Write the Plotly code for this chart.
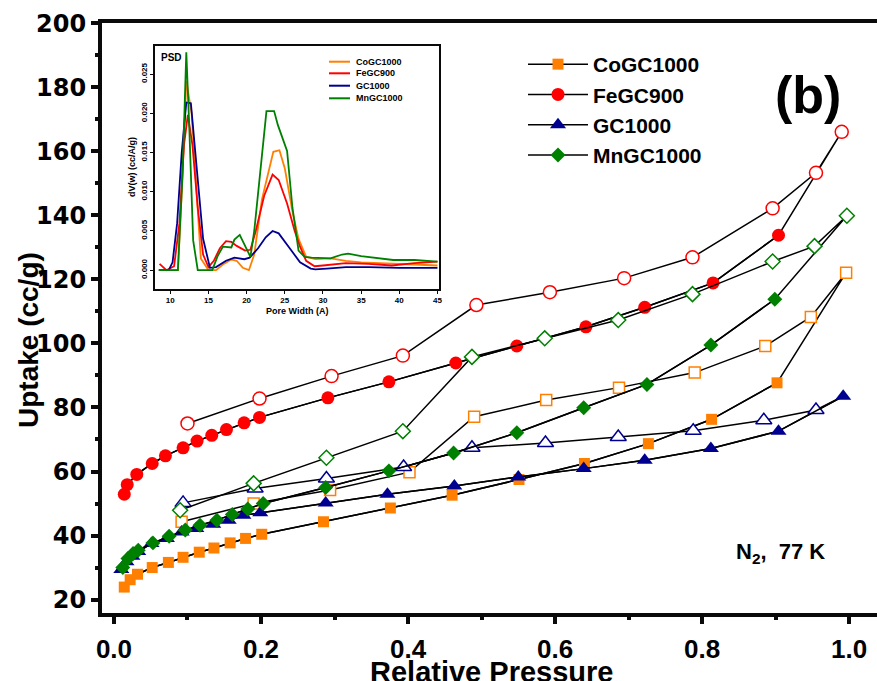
import plotly.graph_objects as go

# ---------------- main isotherm data ----------------
co_ads_p = [0.014, 0.022, 0.032, 0.052, 0.074, 0.094, 0.116, 0.136, 0.158, 0.179, 0.201, 0.285, 0.376, 0.460, 0.551, 0.640, 0.727, 0.813, 0.902]
co_ads_v = [23.9, 26.2, 27.9, 30.0, 31.6, 33.2, 34.8, 36.1, 37.7, 39.1, 40.4, 44.3, 48.6, 52.6, 57.5, 62.5, 68.7, 76.3, 87.7]
co_des_p = [0.996, 0.948, 0.886, 0.790, 0.687, 0.588, 0.490, 0.402, 0.294, 0.190, 0.092]
co_des_v = [122.1, 108.3, 99.2, 90.9, 86.2, 82.3, 77.1, 59.8, 54.2, 50.0, 44.3]

fe_ads_p = [0.014, 0.018, 0.031, 0.052, 0.070, 0.094, 0.113, 0.133, 0.153, 0.177, 0.198, 0.291, 0.374, 0.465, 0.548, 0.642, 0.722, 0.815, 0.904]
fe_ads_v = [52.9, 55.9, 59.1, 62.5, 64.9, 67.4, 69.5, 71.3, 73.1, 75.2, 76.9, 83.0, 88.0, 93.9, 99.2, 105.2, 111.3, 118.9, 133.8]
fe_des_p = [0.990, 0.955, 0.896, 0.787, 0.694, 0.593, 0.493, 0.393, 0.296, 0.198, 0.100]
fe_des_v = [166.1, 153.3, 142.2, 126.9, 120.4, 116.0, 112.0, 96.2, 89.8, 82.8, 75.0]

gc_ads_p = [0.010, 0.017, 0.025, 0.033, 0.051, 0.072, 0.092, 0.112, 0.135, 0.156, 0.176, 0.199, 0.288, 0.372, 0.463, 0.550, 0.639, 0.722, 0.812, 0.904, 0.992]
gc_ads_v = [29.4, 31.8, 33.5, 35.0, 37.5, 39.1, 41.1, 42.2, 43.5, 44.8, 46.3, 47.1, 50.2, 52.9, 55.5, 58.3, 60.9, 63.5, 67.2, 72.6, 83.5]
gc_des_p = [0.955, 0.884, 0.788, 0.686, 0.587, 0.487, 0.394, 0.289, 0.192, 0.094]
gc_des_v = [79.2, 76.0, 72.7, 70.8, 68.9, 67.4, 61.4, 57.8, 54.7, 50.2]

mn_ads_p = [0.012, 0.019, 0.026, 0.033, 0.053, 0.075, 0.097, 0.117, 0.140, 0.161, 0.182, 0.203, 0.288, 0.374, 0.462, 0.548, 0.639, 0.725, 0.812, 0.899]
mn_ads_v = [30.0, 32.8, 34.4, 35.4, 37.7, 39.8, 41.7, 43.2, 44.8, 46.6, 48.3, 50.0, 55.0, 60.2, 65.8, 72.1, 79.9, 87.2, 99.5, 113.8]
mn_des_p = [0.997, 0.953, 0.896, 0.787, 0.686, 0.586, 0.487, 0.393, 0.289, 0.190, 0.090]
mn_des_v = [139.9, 130.4, 125.6, 115.4, 107.3, 101.6, 95.8, 72.6, 64.3, 56.3, 47.9]

names = ["CoGC1000", "FeGC900", "GC1000", "MnGC1000"]
colors = ["#FF8000", "#FF0000", "#000090", "#008000"]

# ---------------- inset PSD data ----------------
co_psd_w = [8.5, 10.0, 11.0, 11.6, 12.1, 12.8, 13.4, 14.0, 15.0, 16.0, 17.0, 18.0, 18.7, 19.5, 20.3, 21.0, 22.0, 23.5, 24.3, 25.0, 26.0, 26.8, 27.8, 29.0, 31.0, 33.0, 35.0, 40.0, 45.0]
co_psd_d = [0, 0, 0, 0.012, 0.0241, 0.020, 0.010, 0.0015, 0, 0, 0.0008, 0.00136, 0.0012, 0.0003, 0, 0.002, 0.009, 0.0151, 0.0153, 0.0130, 0.0075, 0.004, 0.0017, 0.0014, 0.0015, 0.0012, 0.0010, 0.0008, 0.0006]
fe_psd_w = [8.6, 9.5, 10.5, 11.2, 11.8, 12.3, 12.9, 13.6, 14.3, 15.0, 15.7, 16.5, 17.3, 18.0, 18.7, 19.8, 20.5, 21.2, 22.3, 23.4, 24.2, 25.3, 26.3, 27.0, 27.8, 28.9, 30.0, 33.0, 36.0, 39.0, 42.0, 45.0]
fe_psd_d = [0.0008, 0.0, 0.0005, 0.006, 0.016, 0.0198, 0.016, 0.008, 0.002, 0.0004, 0.0012, 0.0028, 0.0037, 0.0036, 0.0031, 0.0025, 0.0026, 0.005, 0.0095, 0.0122, 0.0115, 0.0085, 0.005, 0.003, 0.0012, 0.0005, 0.0006, 0.0009, 0.0008, 0.0006, 0.0009, 0.0011]
gc_psd_w = [8.5, 9.8, 10.3, 10.9, 11.5, 12.1, 12.7, 13.4, 14.3, 15.2, 16.0, 17.3, 18.4, 19.7, 20.4, 21.5, 22.5, 23.4, 24.2, 25.5, 27.0, 28.4, 29.0, 30.5, 33.0, 36.0, 40.0, 45.0]
gc_psd_d = [0, 0, 0.001, 0.006, 0.015, 0.0214, 0.0213, 0.014, 0.004, 0.0003, 0.0004, 0.0012, 0.0016, 0.0014, 0.0016, 0.0028, 0.0042, 0.0050, 0.0047, 0.0030, 0.0010, 0.0002, 0.0001, 0.0002, 0.0004, 0.0004, 0.0003, 0.0003]
mn_psd_w = [8.5, 11.0, 11.6, 12.1, 12.5, 13.0, 13.6, 15.5, 16.2, 16.9, 18.0, 18.4, 19.1, 19.8, 20.5, 21.0, 21.8, 22.6, 23.6, 24.1, 25.3, 26.0, 26.8, 27.6, 28.5, 30.0, 31.0, 32.5, 33.3, 35.0, 37.0, 39.2, 42.0, 45.0]
mn_psd_d = [0, 0, 0.012, 0.0278, 0.018, 0.0038, 0, 0, 0.0018, 0.0030, 0.0029, 0.0039, 0.0045, 0.0030, 0.0017, 0.005, 0.013, 0.0203, 0.0203, 0.0185, 0.0152, 0.008, 0.0025, 0.0017, 0.0016, 0.0015, 0.0015, 0.002, 0.0021, 0.0018, 0.0016, 0.0013, 0.0013, 0.0011]

main_xticks = [0.0, 0.2, 0.4, 0.6, 0.8, 1.0]
main_xminor = [0.1, 0.3, 0.5, 0.7, 0.9]
main_yticks = [20, 40, 60, 80, 100, 120, 140, 160, 180, 200]
inset_xticks = [10, 15, 20, 25, 30, 35, 40, 45]
inset_yticks = [0.0, 0.005, 0.010, 0.015, 0.020, 0.025]

FONT = "Liberation Sans, Arial, sans-serif"
WIDE = "DejaVu Sans, Verdana, sans-serif"
K = "#000000"
AX = "#0a0a0a"

ads = [(co_ads_p, co_ads_v), (fe_ads_p, fe_ads_v), (gc_ads_p, gc_ads_v), (mn_ads_p, mn_ads_v)]
des = [(co_des_p, co_des_v), (fe_des_p, fe_des_v), (gc_des_p, gc_des_v), (mn_des_p, mn_des_v)]
psd = [(co_psd_w, co_psd_d), (fe_psd_w, fe_psd_d), (gc_psd_w, gc_psd_d), (mn_psd_w, mn_psd_d)]
symbols = ["square", "circle", "triangle-up", "diamond"]
sizes = [11, 13, 14, 11.5]

fig = go.Figure()

for i in range(4):
    ap, av = ads[i]
    dp, dv = des[i]
    fig.add_trace(go.Scatter(x=ap + dp, y=av + dv, mode="lines",
                             line=dict(color=K, width=1.5),
                             showlegend=False, hoverinfo="skip"))
    fig.add_trace(go.Scatter(x=dp, y=dv, mode="markers",
                             marker=dict(symbol=symbols[i], size=sizes[i], color="white",
                                         line=dict(color=colors[i], width=1.5)),
                             showlegend=False))
    fig.add_trace(go.Scatter(x=ap, y=av, mode="lines+markers", name=names[i],
                             line=dict(color=K, width=1.5),
                             marker=dict(symbol=symbols[i], size=sizes[i], color=colors[i],
                                         line=dict(width=0))))

for i in range(4):
    w, d = psd[i]
    fig.add_trace(go.Scatter(x=w, y=d, mode="lines", xaxis="x2", yaxis="y2",
                             line=dict(color=colors[i], width=1.8),
                             showlegend=False, name=names[i]))

# plot area geometry (px)
L, R, T, B = 102, 877, 23, 613
W, H = R - L, B - T


def px(x):
    return (x - L) / W


def py(y):
    return (B - y) / H


IX0, IX1, IY0, IY1 = 155, 439, 46, 289

fig.update_layout(
    template="none",
    width=877, height=681,
    margin=dict(l=L, r=0, t=T, b=681 - B),
    paper_bgcolor="white", plot_bgcolor="white",
    font=dict(family=FONT, color=K),
    xaxis=dict(range=[-0.0163, 1.038], tickvals=main_xticks, tickformat=".1f",
               showline=True, linecolor=AX, linewidth=4, mirror=True,
               ticks="outside", ticklen=7, tickwidth=4, tickcolor=AX,
               minor=dict(tickmode="array", tickvals=main_xminor, ticks="outside",
                          ticklen=3, tickwidth=4, tickcolor=AX),
               showgrid=False, zeroline=False, ticklabelstandoff=3,
               tickfont=dict(size=26, family=FONT, weight="bold")),
    yaxis=dict(range=[15.8, 200.1], tickvals=main_yticks,
               showline=True, linecolor=AX, linewidth=4, mirror=False,
               ticks="outside", ticklen=7, tickwidth=4, tickcolor=AX,
               minor=dict(dtick=10, tick0=0, ticks="outside", ticklen=3, tickwidth=4, tickcolor=AX),
               showgrid=False, zeroline=False,
               tickfont=dict(size=24, family=WIDE, weight="bold")),
    xaxis2=dict(domain=[px(IX0), px(IX1)], anchor="y2", range=[8, 45.2],
                tickvals=inset_xticks,
                showline=True, linecolor=AX, linewidth=1.5, mirror=True,
                ticks="outside", ticklen=3, tickwidth=1, tickcolor=AX,
                showgrid=False, zeroline=False,
                tickfont=dict(size=8, family=FONT, weight="bold")),
    yaxis2=dict(domain=[py(IY1), py(IY0)], anchor="x2", range=[-0.0024, 0.0286],
                tickvals=inset_yticks, tickformat=".3f",
                tickangle=-90,
                showline=True, linecolor=AX, linewidth=1.5, mirror=True,
                ticks="outside", ticklen=3, tickwidth=1, tickcolor=AX,
                showgrid=False, zeroline=False,
                tickfont=dict(size=8, family=FONT, weight="bold")),
    legend=dict(x=px(523), y=py(44), xanchor="left", yanchor="top", itemwidth=60,
                bgcolor="rgba(0,0,0,0)", borderwidth=0, tracegroupgap=0,
                font=dict(size=21, family=FONT, weight="bold")),
    showlegend=True,
)


def note(text, x, y, size, xanchor="center", angle=0):
    return dict(text=text, x=px(x), y=py(y), xref="paper", yref="paper",
                xanchor=xanchor, yanchor="middle", textangle=angle,
                showarrow=False, font=dict(size=size, family=FONT, weight="bold", color=K))


ann = [
    note("Uptake (cc/g)", 28, 340, 28, angle=-90),
    note("Relative Pressure", 492, 672, 29),
    note("(b)", 808, 95, 52),
    note("N<sub>2</sub>,  77 K", 780, 553, 22),
    note("dV(w) (cc/A/g)", 132, 167, 9, angle=-90),
    note("Pore Width (A)", 297, 311, 9),
    note("PSD", 159, 58, 10, xanchor="left"),
]

shapes = []
rows = [61.7, 73.3, 85.7, 98.3]
for i in range(4):
    shapes.append(dict(type="line", xref="paper", yref="paper", x0=px(329), x1=px(350),
                       y0=py(rows[i]), y1=py(rows[i]), line=dict(color=colors[i], width=2)))
    ann.append(note(names[i], 354, rows[i], 9, xanchor="left"))

fig.update_layout(annotations=ann, shapes=shapes)

fig.write_html("out.html")
